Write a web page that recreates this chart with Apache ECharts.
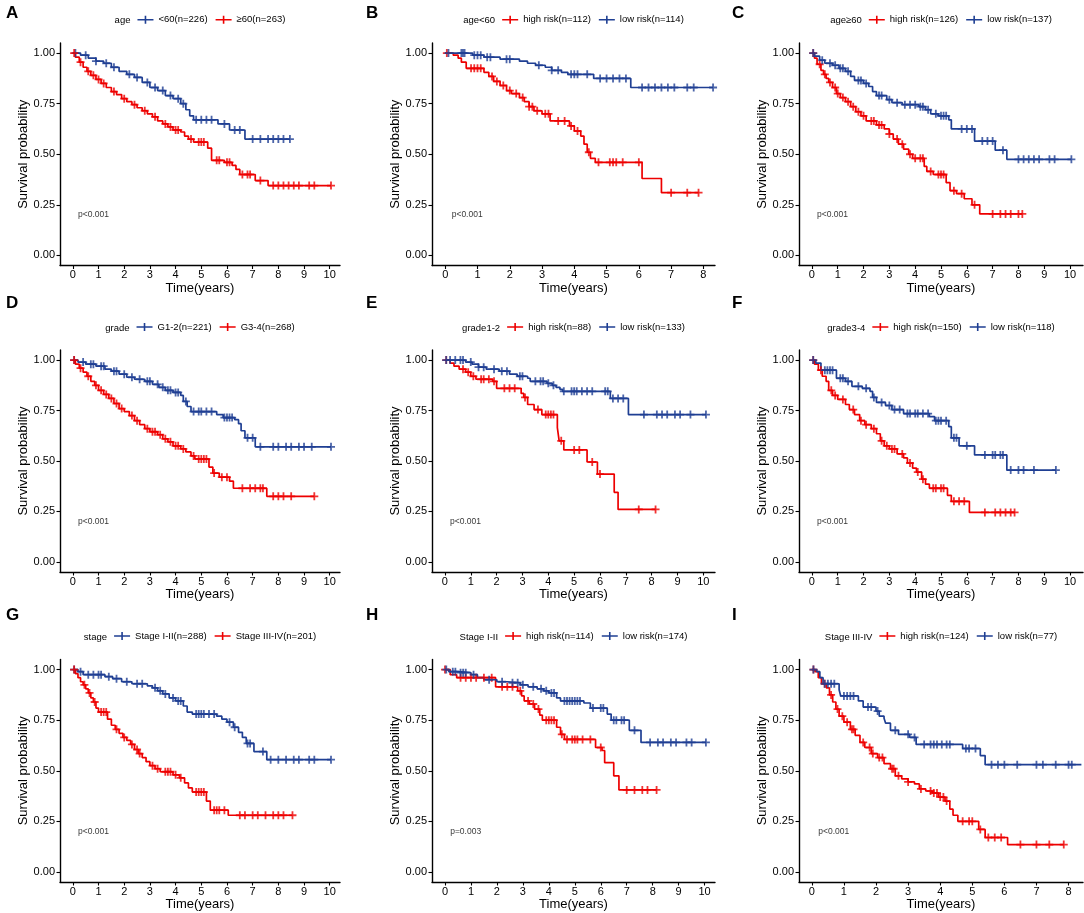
<!DOCTYPE html>
<html><head><meta charset="utf-8">
<script src="https://cdn.jsdelivr.net/npm/echarts@6/dist/echarts.min.js"></script>
<style>html,body{margin:0;padding:0;background:#fff}#c{width:1084px;height:913px}</style>
</head><body><div id="c"></div>
<script>
// ---------- tick labels ----------
const xTicks10 = [0,1,2,3,4,5,6,7,8,9,10];
const xTicks8 = [0,1,2,3,4,5,6,7,8];
const yTicks = [0,0.25,0.5,0.75,1];
const yTickLabels = ['0.00','0.25','0.50','0.75','1.00'];

// ---------- Panel A : age ----------
const aTitle = 'age';
const aBlueName = '<60(n=226)';
const aRedName = '≥60(n=263)';
const aBlue = [[0,1],[0.3,0.99],[0.6,0.975],[0.9,0.96],[1.2,0.95],[1.5,0.93],[1.8,0.91],[2.1,0.895],[2.4,0.88],[2.7,0.855],[3.0,0.83],[3.3,0.815],[3.6,0.79],[3.9,0.775],[4.2,0.75],[4.4,0.72],[4.55,0.69],[4.7,0.67],[5.65,0.65],[6.1,0.62],[6.7,0.575],[8.45,0.575]];
const aBlueCens = [0.1,0.5,0.9,1.3,1.6,2.2,2.5,2.9,3.2,3.5,3.8,4.1,4.3,4.8,5.0,5.2,5.4,5.9,6.3,6.5,7.0,7.3,7.6,7.8,8.0,8.2,8.45];
const aRed = [[0,1],[0.1,0.98],[0.25,0.955],[0.4,0.93],[0.55,0.91],[0.7,0.89],[0.9,0.87],[1.1,0.85],[1.3,0.83],[1.5,0.81],[1.7,0.795],[1.9,0.775],[2.1,0.76],[2.3,0.745],[2.5,0.73],[2.7,0.715],[2.9,0.70],[3.1,0.685],[3.3,0.665],[3.5,0.65],[3.7,0.635],[3.9,0.62],[4.2,0.61],[4.35,0.59],[4.5,0.575],[4.7,0.56],[5.25,0.53],[5.4,0.47],[5.9,0.46],[6.2,0.445],[6.35,0.425],[6.5,0.40],[7.1,0.37],[7.6,0.345],[10.05,0.345]];
const aRedCens = [0.05,0.3,0.6,0.8,1.0,1.2,1.6,2.0,2.4,2.8,3.2,3.6,3.8,4.0,4.1,4.6,4.9,5.0,5.1,5.6,5.7,6.0,6.1,6.6,6.8,6.9,7.3,7.8,8.0,8.2,8.4,8.6,8.8,9.2,9.4,10.05];
const aP = 'p<0.001';

// ---------- Panel B : age<60 ----------
const bTitle = 'age<60';
const bRedName = 'high risk(n=112)';
const bBlueName = 'low risk(n=114)';
const bRed = [[0,1],[0.25,0.99],[0.4,0.975],[0.5,0.955],[0.65,0.925],[1.2,0.905],[1.35,0.885],[1.5,0.86],[1.7,0.84],[1.9,0.815],[2.05,0.80],[2.3,0.78],[2.45,0.76],[2.6,0.735],[2.75,0.715],[3.0,0.70],[3.25,0.665],[3.85,0.64],[4.0,0.615],[4.2,0.59],[4.3,0.55],[4.4,0.51],[4.5,0.48],[4.65,0.46],[6.1,0.38],[6.7,0.31],[7.85,0.31]];
const bRedCens = [0.05,0.8,0.9,1.0,1.1,1.45,1.6,1.8,2.0,2.2,2.4,2.6,2.7,2.85,3.1,3.2,3.5,3.7,3.9,4.1,4.45,4.75,5.1,5.2,5.3,5.5,6.0,7.0,7.5,7.85];
const bBlue = [[0,1],[0.85,0.99],[1.2,0.98],[1.7,0.97],[2.3,0.96],[2.55,0.95],[2.8,0.94],[3.1,0.93],[3.3,0.915],[3.6,0.905],[3.8,0.895],[4.6,0.875],[5.75,0.83],[8.3,0.83]];
const bBlueCens = [0.1,0.5,0.55,0.6,0.9,1.0,1.1,1.3,1.4,1.9,2.0,2.9,3.3,3.5,3.9,4.0,4.1,4.4,4.8,5.0,5.2,5.4,5.6,6.1,6.3,6.5,6.7,6.9,7.1,7.5,7.7,8.3];
const bP = 'p<0.001';

// ---------- Panel C : age>=60 ----------
const cTitle = 'age≥60';
const cRedName = 'high risk(n=126)';
const cBlueName = 'low risk(n=137)';
const cRed = [[0,1],[0.1,0.975],[0.2,0.945],[0.35,0.915],[0.45,0.895],[0.55,0.875],[0.65,0.855],[0.8,0.83],[0.95,0.80],[1.1,0.78],[1.3,0.76],[1.5,0.735],[1.7,0.71],[1.9,0.69],[2.1,0.665],[2.5,0.645],[2.8,0.625],[3.0,0.60],[3.15,0.575],[3.35,0.55],[3.55,0.525],[3.75,0.50],[3.9,0.48],[4.35,0.44],[4.45,0.415],[4.7,0.40],[5.2,0.36],[5.35,0.32],[5.6,0.305],[5.9,0.28],[6.2,0.25],[6.5,0.205],[8.15,0.205]];
const cRedCens = [0.05,0.3,0.5,0.7,0.9,1.0,1.2,1.4,1.6,1.8,2.0,2.3,2.4,2.6,2.7,3.0,3.3,3.5,3.8,4.0,4.2,4.3,4.6,4.9,5.0,5.1,5.5,5.8,6.3,7.0,7.3,7.5,7.7,8.0,8.15];
const cBlue = [[0,1],[0.1,0.985],[0.3,0.965],[0.5,0.95],[0.8,0.94],[1.05,0.925],[1.3,0.91],[1.5,0.885],[1.65,0.865],[2.0,0.85],[2.2,0.835],[2.35,0.81],[2.5,0.79],[2.9,0.77],[3.1,0.755],[3.5,0.745],[4.15,0.735],[4.4,0.72],[4.6,0.70],[4.9,0.69],[5.3,0.67],[5.4,0.625],[6.3,0.565],[7.1,0.52],[7.55,0.475],[10.05,0.475]];
const cBlueCens = [0.05,0.4,0.7,0.9,1.1,1.2,1.4,1.8,1.9,2.1,2.6,2.7,3.0,3.3,3.6,3.8,4.0,4.2,4.3,4.5,4.8,5.0,5.1,5.2,5.8,6.0,6.2,6.6,6.8,7.0,7.4,8.0,8.2,8.4,8.6,8.8,9.2,9.4,10.05];
const cP = 'p<0.001';

// ---------- Panel D : grade ----------
const dTitle = 'grade';
const dBlueName = 'G1-2(n=221)';
const dRedName = 'G3-4(n=268)';
const dBlue = [[0,1],[0.2,0.99],[0.5,0.98],[0.9,0.97],[1.25,0.955],[1.5,0.945],[1.8,0.93],[2.1,0.915],[2.4,0.905],[2.8,0.895],[3.1,0.88],[3.35,0.865],[3.6,0.85],[3.9,0.84],[4.2,0.825],[4.3,0.795],[4.45,0.77],[4.6,0.745],[5.6,0.73],[5.85,0.715],[6.3,0.705],[6.45,0.685],[6.55,0.65],[6.7,0.615],[7.1,0.57],[10.05,0.57]];
const dBlueCens = [0.05,0.4,0.7,0.8,1.1,1.2,1.6,1.7,2.0,2.3,2.6,2.9,3.0,3.3,3.5,3.7,3.8,4.0,4.1,4.4,4.7,4.9,5.0,5.2,5.4,5.9,6.0,6.1,6.2,6.8,7.0,7.3,7.8,8.0,8.3,8.5,8.8,9.0,9.3,10.05];
const dRed = [[0,1],[0.1,0.98],[0.25,0.96],[0.4,0.94],[0.55,0.92],[0.7,0.895],[0.85,0.875],[1.0,0.85],[1.2,0.83],[1.4,0.81],[1.6,0.785],[1.8,0.76],[2.0,0.745],[2.2,0.725],[2.4,0.70],[2.6,0.68],[2.8,0.66],[3.0,0.645],[3.3,0.63],[3.5,0.61],[3.7,0.595],[3.9,0.575],[4.2,0.56],[4.4,0.545],[4.6,0.525],[4.75,0.51],[5.3,0.47],[5.45,0.44],[5.7,0.42],[6.1,0.40],[6.25,0.365],[7.55,0.325],[9.4,0.325]];
const dRedCens = [0.05,0.3,0.6,0.9,1.1,1.3,1.5,1.7,1.9,2.3,2.5,2.9,3.1,3.2,3.4,3.6,3.8,4.0,4.1,4.3,4.7,4.9,5.0,5.1,5.2,5.5,5.8,6.0,6.6,6.9,7.1,7.3,7.4,7.8,8.0,8.2,8.5,9.4];
const dP = 'p<0.001';

// ---------- Panel E : grade1-2 ----------
const eTitle = 'grade1-2';
const eRedName = 'high risk(n=88)';
const eBlueName = 'low risk(n=133)';
const eRed = [[0,1],[0.2,0.985],[0.35,0.97],[0.55,0.955],[0.8,0.94],[1.0,0.92],[1.2,0.905],[1.85,0.895],[2.0,0.86],[2.95,0.835],[3.05,0.815],[3.2,0.78],[3.45,0.755],[3.75,0.73],[4.35,0.665],[4.42,0.60],[4.6,0.555],[5.5,0.495],[5.9,0.435],[6.55,0.345],[6.7,0.26],[8.15,0.26]];
const eRedCens = [0.05,0.7,0.9,1.1,1.4,1.5,1.7,1.9,2.3,2.5,2.7,3.1,3.6,3.9,4.0,4.1,4.2,4.5,5.0,5.2,5.7,6.0,7.5,8.15];
const eBlue = [[0,1],[0.8,0.99],[1.05,0.98],[1.3,0.965],[1.6,0.955],[2.1,0.945],[2.5,0.93],[2.8,0.92],[3.2,0.91],[3.3,0.895],[3.95,0.885],[4.15,0.875],[4.3,0.865],[4.45,0.855],[4.55,0.845],[6.4,0.81],[7.1,0.73],[10.1,0.73]];
const eBlueCens = [0.05,0.2,0.4,0.6,0.7,1.0,1.3,1.5,1.9,2.2,2.4,2.9,3.0,3.5,3.7,3.8,4.0,4.2,4.6,4.9,5.0,5.1,5.3,5.5,5.7,6.2,6.3,6.5,6.7,6.9,7.7,8.2,8.4,8.6,8.9,9.1,9.5,10.1];
const eP = 'p<0.001';

// ---------- Panel F : grade3-4 ----------
const fTitle = 'grade3-4';
const fRedName = 'high risk(n=150)';
const fBlueName = 'low risk(n=118)';
const fRed = [[0,1],[0.1,0.98],[0.25,0.95],[0.4,0.92],[0.55,0.895],[0.65,0.85],[0.8,0.825],[1.0,0.805],[1.3,0.78],[1.45,0.755],[1.65,0.73],[1.85,0.70],[2.05,0.68],[2.3,0.66],[2.5,0.635],[2.65,0.60],[2.8,0.575],[3.0,0.56],[3.3,0.535],[3.55,0.515],[3.7,0.49],[3.9,0.465],[4.05,0.445],[4.25,0.41],[4.4,0.385],[4.55,0.365],[5.25,0.33],[5.4,0.30],[6.1,0.245],[7.85,0.245]];
const fRedCens = [0.05,0.35,0.75,0.9,1.2,1.6,1.9,2.1,2.4,2.7,2.9,3.1,3.2,3.5,3.8,4.1,4.3,4.7,4.8,5.0,5.1,5.5,5.7,5.9,6.7,7.1,7.3,7.5,7.7,7.85];
const fBlue = [[0,1],[0.15,0.985],[0.35,0.95],[0.95,0.91],[1.3,0.895],[1.55,0.87],[1.95,0.86],[2.25,0.845],[2.35,0.815],[2.5,0.79],[2.85,0.775],[3.1,0.755],[3.55,0.735],[4.55,0.72],[4.75,0.70],[5.3,0.67],[5.4,0.615],[5.7,0.575],[6.3,0.53],[7.55,0.455],[9.45,0.455]];
const fBlueCens = [0.05,0.5,0.6,0.7,0.8,1.1,1.2,1.4,1.8,2.1,2.4,2.7,3.0,3.2,3.4,3.7,3.8,4.0,4.1,4.3,4.5,4.8,4.9,5.0,5.2,5.5,5.6,6.0,6.7,7.0,7.1,7.3,7.4,7.7,8.0,8.2,8.6,9.45];
const fP = 'p<0.001';

// ---------- Panel G : stage ----------
const gTitle = 'stage';
const gBlueName = 'Stage I-II(n=288)';
const gRedName = 'Stage III-IV(n=201)';
const gBlue = [[0,1],[0.2,0.99],[0.4,0.975],[1.25,0.965],[1.55,0.955],[1.9,0.94],[2.3,0.93],[2.9,0.92],[3.1,0.91],[3.3,0.895],[3.5,0.88],[3.75,0.86],[4.0,0.845],[4.3,0.82],[4.45,0.79],[4.65,0.78],[5.6,0.77],[5.8,0.755],[6.0,0.74],[6.25,0.715],[6.45,0.69],[6.6,0.665],[6.75,0.635],[7.05,0.595],[7.55,0.555],[10.05,0.555]];
const gBlueCens = [0.05,0.3,0.6,0.8,1.0,1.1,1.4,1.7,2.1,2.5,2.7,3.2,3.4,3.6,3.9,4.1,4.2,4.8,4.9,5.0,5.1,5.3,5.5,6.1,6.3,6.8,6.9,7.4,7.7,8.0,8.3,8.6,8.8,9.2,9.4,10.05];
const gRed = [[0,1],[0.1,0.98],[0.2,0.96],[0.3,0.94],[0.4,0.925],[0.5,0.905],[0.6,0.885],[0.7,0.86],[0.8,0.84],[0.9,0.81],[1.0,0.79],[1.35,0.755],[1.5,0.725],[1.65,0.705],[1.8,0.685],[1.95,0.665],[2.1,0.65],[2.25,0.63],[2.4,0.605],[2.55,0.585],[2.7,0.565],[2.85,0.545],[3.0,0.525],[3.2,0.51],[3.4,0.495],[3.9,0.48],[4.15,0.465],[4.35,0.44],[4.5,0.415],[4.65,0.395],[5.2,0.35],[5.35,0.305],[6.05,0.28],[8.55,0.28]];
const gRedCens = [0.05,0.45,0.65,0.85,1.1,1.2,1.3,1.7,2.0,2.3,2.5,2.6,3.1,3.3,3.6,3.7,3.8,4.0,4.2,4.8,4.9,5.0,5.1,5.5,5.6,5.7,5.9,6.5,6.7,7.0,7.2,7.5,7.8,8.0,8.2,8.55];
const gP = 'p<0.001';

// ---------- Panel H : Stage I-II ----------
const hTitle = 'Stage I-II';
const hRedName = 'high risk(n=114)';
const hBlueName = 'low risk(n=174)';
const hRed = [[0,1],[0.2,0.975],[0.45,0.96],[1.95,0.915],[2.8,0.895],[2.95,0.87],[3.05,0.845],[3.25,0.83],[3.45,0.805],[3.65,0.775],[3.75,0.75],[4.3,0.715],[4.45,0.68],[4.6,0.655],[5.8,0.615],[6.05,0.60],[6.15,0.54],[6.5,0.475],[6.7,0.405],[8.15,0.405]];
const hRedCens = [0.0,0.6,0.8,1.0,1.2,1.5,1.8,2.2,2.4,2.6,2.9,3.2,3.4,3.6,3.9,4.0,4.1,4.2,4.5,4.7,4.9,5.0,5.1,5.3,5.6,6.0,7.0,7.3,7.6,7.8,8.15];
const hBlue = [[0,1],[0.15,0.99],[0.5,0.985],[1.0,0.975],[1.25,0.96],[1.5,0.95],[2.0,0.94],[2.4,0.935],[2.9,0.925],[3.2,0.915],[3.55,0.905],[3.8,0.895],[4.0,0.885],[4.3,0.86],[4.45,0.845],[5.35,0.835],[5.6,0.81],[6.25,0.78],[6.4,0.75],[7.1,0.70],[7.55,0.64],[10.05,0.64]];
const hBlueCens = [0.05,0.3,0.4,0.6,0.7,0.8,1.1,1.7,2.2,2.6,2.8,3.0,3.4,3.7,3.9,4.1,4.2,4.6,4.7,4.8,4.9,5.0,5.1,5.2,5.7,6.0,6.1,6.5,6.6,6.8,6.9,7.3,7.9,8.2,8.4,8.7,8.9,9.3,9.5,10.05];
const hP = 'p=0.003';

// ---------- Panel I : Stage III-IV ----------
const iTitle = 'Stage III-IV';
const iRedName = 'high risk(n=124)';
const iBlueName = 'low risk(n=77)';
const iRed = [[0,1],[0.1,0.99],[0.2,0.96],[0.3,0.93],[0.45,0.91],[0.55,0.875],[0.65,0.84],[0.75,0.805],[0.85,0.77],[1.0,0.74],[1.2,0.705],[1.35,0.675],[1.5,0.64],[1.65,0.615],[1.85,0.585],[2.05,0.565],[2.25,0.535],[2.45,0.51],[2.6,0.475],[2.8,0.46],[3.0,0.445],[3.2,0.435],[3.35,0.41],[3.55,0.40],[3.75,0.39],[3.95,0.37],[4.15,0.35],[4.3,0.31],[4.4,0.28],[4.55,0.25],[5.2,0.21],[5.4,0.17],[6.1,0.135],[7.85,0.135]];
const iRedCens = [0.05,0.4,0.6,0.8,0.95,1.1,1.25,1.3,1.6,1.8,1.9,2.1,2.2,2.5,2.55,2.7,3.0,3.4,3.7,3.8,3.9,4.0,4.1,4.2,4.7,4.9,5.0,5.25,5.5,5.7,5.9,6.5,7.0,7.4,7.85];
const iBlue = [[0,1],[0.15,0.99],[0.25,0.96],[0.35,0.93],[0.85,0.90],[0.9,0.87],[1.45,0.845],[1.6,0.815],[2.0,0.795],[2.1,0.77],[2.25,0.76],[2.3,0.735],[2.45,0.70],[2.7,0.68],[3.05,0.665],[3.25,0.63],[4.7,0.61],[5.25,0.575],[5.4,0.53],[8.4,0.53]];
const iBlueCens = [0.05,0.4,0.5,0.6,0.7,1.0,1.1,1.2,1.3,1.75,1.85,2.05,2.6,3.0,3.2,3.5,3.7,3.8,3.9,4.05,4.2,4.3,4.8,4.9,5.1,5.6,5.8,6.0,6.4,7.0,7.2,7.6,8.0,8.1];
const iP = 'p<0.001';

// ---------- styling / layout ----------
const RED = '#ED0000', BLUE = '#1F3F93';
const FONT = '"Liberation Sans", Arial, Helvetica, sans-serif';
const PLUS = 'path://M-0.9,-4H0.9V-0.9H4V0.9H0.9V4H-0.9V0.9H-4V-0.9H-0.9Z';
const LEG_ICON = 'path://M0,3.2H16V4.8H0Z M7.2,0H8.8V8H7.2Z';
const cols = [{left:60,width:280,letter:6},{left:432,width:283,letter:366},{left:799,width:284,letter:732}];
const rows = [{top:43,h:222.5,legY:20.7,letY:13},{top:350,h:222,legY:328,letY:303},{top:659.5,h:222.5,legY:637,letY:615}];

const panels = [
  {L:'A',c:0,r:0,xr:[-0.5,10.4],ticks:xTicks10,title:aTitle,p:aP,s:[[aBlueName,BLUE,aBlue,aBlueCens],[aRedName,RED,aRed,aRedCens]]},
  {L:'B',c:1,r:0,xr:[-0.41,8.36],ticks:xTicks8,title:bTitle,p:bP,s:[[bRedName,RED,bRed,bRedCens],[bBlueName,BLUE,bBlue,bBlueCens]]},
  {L:'C',c:2,r:0,xr:[-0.5,10.5],ticks:xTicks10,title:cTitle,p:cP,s:[[cRedName,RED,cRed,cRedCens],[cBlueName,BLUE,cBlue,cBlueCens]]},
  {L:'D',c:0,r:1,xr:[-0.5,10.4],ticks:xTicks10,title:dTitle,p:dP,s:[[dBlueName,BLUE,dBlue,dBlueCens],[dRedName,RED,dRed,dRedCens]]},
  {L:'E',c:1,r:1,xr:[-0.5,10.45],ticks:xTicks10,title:eTitle,p:eP,s:[[eRedName,RED,eRed,eRedCens],[eBlueName,BLUE,eBlue,eBlueCens]]},
  {L:'F',c:2,r:1,xr:[-0.5,10.5],ticks:xTicks10,title:fTitle,p:fP,s:[[fRedName,RED,fRed,fRedCens],[fBlueName,BLUE,fBlue,fBlueCens]]},
  {L:'G',c:0,r:2,xr:[-0.5,10.4],ticks:xTicks10,title:gTitle,p:gP,s:[[gBlueName,BLUE,gBlue,gBlueCens],[gRedName,RED,gRed,gRedCens]]},
  {L:'H',c:1,r:2,xr:[-0.5,10.4],ticks:xTicks10,title:hTitle,p:hP,s:[[hRedName,RED,hRed,hRedCens],[hBlueName,BLUE,hBlue,hBlueCens]]},
  {L:'I',c:2,r:2,xr:[-0.4,8.45],ticks:xTicks8,title:iTitle,p:iP,s:[[iRedName,RED,iRed,iRedCens],[iBlueName,BLUE,iBlue,iBlueCens]]}
];

function stepAt(curve, t){ let v = curve[0][1]; for (const p of curve){ if (p[0] <= t + 1e-9) v = p[1]; } return v; }
const mctx = document.createElement('canvas').getContext('2d');
function textW(t, size){ mctx.font = size + 'px ' + FONT; return mctx.measureText(t).width; }

const LEG_FS = 9.5, IW = 16, IH = 8, IGAP = 8, TGAP = 7;
const option = { animation:false, backgroundColor:'#fff', textStyle:{fontFamily:FONT},
  grid:[], xAxis:[], yAxis:[], series:[], legend:[], title:[] };

panels.forEach((p, i) => {
  const col = cols[p.c], row = rows[p.r];
  option.grid.push({left:col.left, width:col.width, top:row.top, height:row.h, containLabel:false});
  option.xAxis.push({type:'value', gridIndex:i, min:p.xr[0], max:p.xr[1],
    axisLine:{show:true, onZero:false, lineStyle:{color:'#000', width:1.4}},
    axisTick:{show:true, length:3.5, customValues:p.ticks, lineStyle:{color:'#000', width:1.1}},
    axisLabel:{customValues:p.ticks, margin:4, fontSize:11, color:'#000', fontFamily:FONT},
    splitLine:{show:false},
    name:'Time(years)', nameLocation:'middle', nameGap:16,
    nameTextStyle:{fontSize:13, color:'#000', fontFamily:FONT}});
  option.yAxis.push({type:'value', gridIndex:i, min:-0.05, max:1.05,
    axisLine:{show:true, onZero:false, lineStyle:{color:'#000', width:1.4}},
    axisTick:{show:true, length:3.5, customValues:yTicks, lineStyle:{color:'#000', width:1.1}},
    axisLabel:{customValues:yTicks, margin:5, fontSize:11, color:'#000', fontFamily:FONT,
      formatter:v => yTickLabels[yTicks.findIndex(t => Math.abs(t - v) < 1e-6)] ?? v.toFixed(2)},
    splitLine:{show:false},
    name:'Survival probability', nameLocation:'middle', nameGap:30,
    nameTextStyle:{fontSize:13, color:'#000', fontFamily:FONT}});
  p.s.forEach(([name, color, curve, cens]) => {
    option.series.push({type:'line', name, xAxisIndex:i, yAxisIndex:i, data:curve, step:'end',
      symbol:'none', showSymbol:false, lineStyle:{color, width:1.7}, itemStyle:{color}, z:2});
    option.series.push({type:'scatter', name, xAxisIndex:i, yAxisIndex:i,
      data:cens.map(t => [t, stepAt(curve, t)]), symbol:PLUS, symbolSize:8,
      itemStyle:{color}, z:3});
  });
  option.series.push({type:'scatter', name:'pval'+p.L, xAxisIndex:i, yAxisIndex:i, data:[[0.2,0.2]],
    symbolSize:0, silent:true,
    label:{show:true, position:'right', distance:0, formatter:p.p, fontSize:8.5, color:'#000', fontFamily:FONT}});
  // legend centered over the plot
  const names = p.s.map(s => s[0]);
  const wt = textW(p.title, LEG_FS);
  const total = wt + TGAP + names.reduce((a, n) => a + IW + 5 + textW(n, LEG_FS), 0) + IGAP;
  const cx = col.left + col.width / 2;
  const start = cx - total / 2;
  option.title.push({text:p.title, left:start, top:row.legY - 6, padding:0,
    textStyle:{fontSize:LEG_FS, fontWeight:'normal', color:'#000', fontFamily:FONT, lineHeight:12}});
  option.legend.push({data:names, left:start + wt + TGAP, top:row.legY - 6, padding:0,
    itemWidth:IW, itemHeight:IH, itemGap:IGAP, icon:LEG_ICON, itemStyle:{borderWidth:0},
    textStyle:{fontSize:LEG_FS, color:'#000', fontFamily:FONT}});
  option.title.push({text:p.L, left:col.letter, top:row.letY - 9, padding:0,
    textStyle:{fontSize:17, fontWeight:'bold', color:'#000', fontFamily:FONT, lineHeight:18}});
});

const chart = echarts.init(document.getElementById('c'), null, {renderer:'canvas'});
chart.setOption(option);
</script>
</body></html>
